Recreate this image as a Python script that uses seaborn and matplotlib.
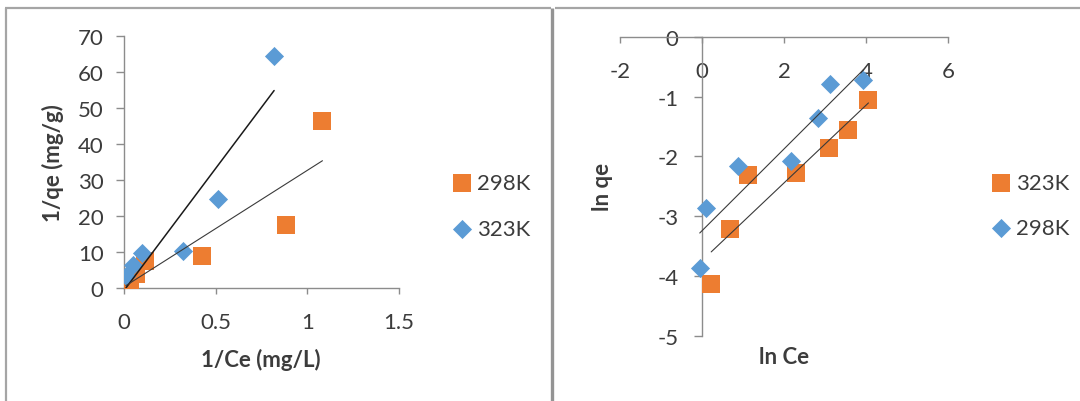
import matplotlib
matplotlib.use("Agg")
import matplotlib.pyplot as plt
from matplotlib.ticker import FuncFormatter
import pandas as pd
import seaborn as sns

# Langmuir linearisation: 1/qe against 1/Ce
lang_298_x = [0.009, 0.031, 0.064, 0.113, 0.423, 0.884, 1.082]
lang_298_y = [1.0, 1.7, 3.8, 7.5, 8.7, 17.5, 46.3]
lang_323_x = [0.009, 0.046, 0.098, 0.319, 0.514, 0.818]
lang_323_y = [3.2, 6.4, 9.7, 10.1, 24.6, 64.5]
lang_labels = ["298K", "323K"]
lang_xticks = [0, 0.5, 1, 1.5]
lang_yticks = [0, 10, 20, 30, 40, 50, 60, 70]

# Freundlich linearisation: ln qe against ln Ce
freu_323_x = [0.22, 0.69, 1.11, 2.30, 3.10, 3.55, 4.06]
freu_323_y = [-4.14, -3.22, -2.32, -2.28, -1.86, -1.56, -1.06]
freu_298_x = [-0.06, 0.10, 0.87, 2.17, 2.84, 3.11, 3.93]
freu_298_y = [-3.86, -2.86, -2.17, -2.08, -1.36, -0.79, -0.72]
freu_labels = ["323K", "298K"]
freu_xticks = [-2, 0, 2, 4, 6]
freu_yticks = [-5, -4, -3, -2, -1, 0]

ORANGE = "#ED7D31"
BLUE = "#5B9BD5"
TEXT = "#3C3C3C"
AXIS = "#8C8C8C"
FS = 16

sns.set_theme(style="white")
plt.rcParams["font.family"] = ["Lato", "DejaVu Sans"]
plt.rcParams["axes.unicode_minus"] = False

W, H = 1080, 402
fig = plt.figure(figsize=(W / 100, H / 100), dpi=100)
fig.patch.set_facecolor("white")

# panel borders
frame = fig.add_axes([0, 0, 1, 1], zorder=-1)
frame.set_xlim(0, W)
frame.set_ylim(H, 0)
frame.axis("off")
border = dict(color="#A5A5A5", lw=1.6, solid_capstyle="butt")
frame.plot([5, 551], [9.3, 9.3], **border)
frame.plot([6.2, 6.2], [9.3, H], **border)
frame.plot([555, W], [9.3, 9.3], **border)
frame.plot([552.4, 552.4], [8.5, H], color="#949494", lw=2.4, solid_capstyle="butt")

fmt = FuncFormatter(lambda v, p: f"{v:g}")


def style_axes(ax, xpad, ypad):
    ax.set_facecolor("none")
    for side in ("top", "right"):
        ax.spines[side].set_visible(False)
    for side in ("left", "bottom"):
        ax.spines[side].set_color(AXIS)
        ax.spines[side].set_linewidth(1.0)
    ax.tick_params(axis="x", bottom=True, direction="out", length=4.3, width=1.0,
                   color=AXIS, pad=xpad, labelsize=FS, labelcolor=TEXT)
    ax.tick_params(axis="y", left=True, direction="out", length=6.0, width=1.0,
                   color=AXIS, pad=ypad, labelsize=FS, labelcolor=TEXT)
    ax.xaxis.set_major_formatter(fmt)
    ax.yaxis.set_major_formatter(fmt)


def add_series(ax, x, y, marker, size, color, label):
    sns.scatterplot(x=x, y=y, marker=marker, s=size, color=color, linewidth=0,
                    label=label, ax=ax, zorder=3)


def add_fit(ax, x, y, color, lw):
    sns.regplot(x=x, y=y, scatter=False, ci=None, truncate=True, ax=ax,
                line_kws=dict(color=color, lw=lw, zorder=4))


def add_legend(ax, cx, cy):
    leg = ax.legend(loc="center left", bbox_to_anchor=(cx / W, 1 - cy / H),
                    bbox_transform=fig.transFigure, frameon=False, fontsize=FS,
                    handlelength=1.0, handletextpad=0.16, labelspacing=1.15,
                    borderpad=0, borderaxespad=0, scatterpoints=1)
    for t in leg.get_texts():
        t.set_color(TEXT)


# ---- Langmuir panel ----
ax1 = fig.add_axes([124.3 / W, 1 - 288.7 / H, 274.7 / W, 251.4 / H])
add_series(ax1, lang_298_x, lang_298_y, "s", 170, ORANGE, lang_labels[0])
add_series(ax1, lang_323_x, lang_323_y, "D", 95, BLUE, lang_labels[1])
add_fit(ax1, lang_323_x, lang_323_y, "#1a1a1a", 1.1)
add_fit(ax1, lang_298_x, lang_298_y, "#3a3a3a", 0.8)
ax1.set_xlim(0, 1.5)
ax1.set_ylim(0, 70)
ax1.set_xticks(lang_xticks)
ax1.set_yticks(lang_yticks)
style_axes(ax1, xpad=13, ypad=9)
ax1.set_xlabel("1/Ce (mg/L)", fontsize=FS, fontweight="bold", color=TEXT, va="center")
ax1.set_ylabel("1/qe (mg/g)", fontsize=FS, fontweight="bold", color=TEXT, va="center")
ax1.xaxis.set_label_coords(0.4976, -0.2836)
ax1.yaxis.set_label_coords(-0.2585, 0.5)
add_legend(ax1, 450.9, 207)

# ---- Freundlich panel ----
ax2 = fig.add_axes([620.3 / W, 1 - 336.7 / H, 327.6 / W, 299 / H])
add_series(ax2, freu_323_x, freu_323_y, "s", 170, ORANGE, freu_labels[0])
add_series(ax2, freu_298_x, freu_298_y, "D", 95, BLUE, freu_labels[1])
add_fit(ax2, freu_298_x, freu_298_y, "#3a3a3a", 0.8)
add_fit(ax2, freu_323_x, freu_323_y, "#3a3a3a", 0.8)
ax2.set_xlim(-2, 6)
ax2.set_ylim(-5, 0)
ax2.set_xticks(freu_xticks)
ax2.set_yticks(freu_yticks)
style_axes(ax2, xpad=13, ypad=11)
ax2.spines["left"].set_position(("data", 0))
ax2.spines["bottom"].set_position(("data", 0))
ax2.set_xlabel("ln Ce", fontsize=FS, fontweight="bold", color=TEXT, va="center")
ax2.set_ylabel("ln qe", fontsize=FS, fontweight="bold", color=TEXT, va="center")
ax2.xaxis.set_label_coords(0.4997, -0.0679)
ax2.yaxis.set_label_coords(-0.0546, 0.5017)
add_legend(ax2, 990.2, 206.5)

fig.savefig("out.png", dpi=100, facecolor="white")
